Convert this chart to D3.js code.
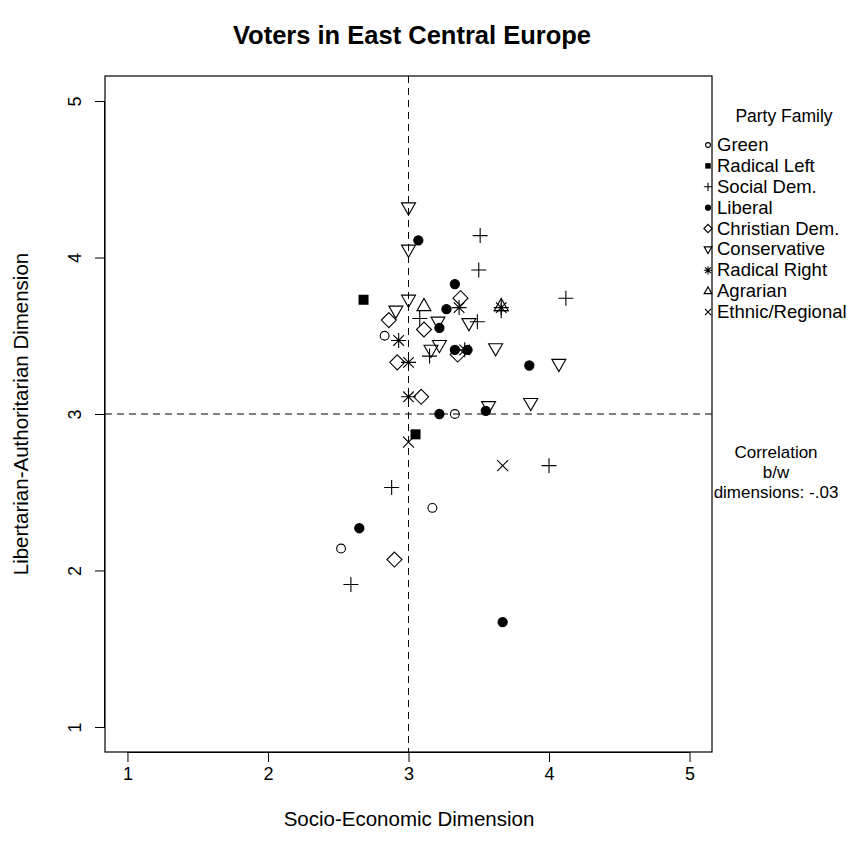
<!DOCTYPE html>
<html><head><meta charset="utf-8">
<script src="https://cdn.jsdelivr.net/npm/d3@7"></script>
<style>body{margin:0;background:#fff}text{font-family:"Liberation Sans",Arial,sans-serif;fill:#000}</style>
</head><body>
<svg id="c" width="858" height="858"></svg>
<script>
// ---- data ----
const families = ["Green","Radical Left","Social Dem.","Liberal","Christian Dem.","Conservative","Radical Right","Agrarian","Ethnic/Regional"];
const pointFamily = [
  "Green","Green","Green","Green",
  "Radical Left","Radical Left",
  "Social Dem.","Social Dem.","Social Dem.","Social Dem.","Social Dem.","Social Dem.","Social Dem.","Social Dem.","Social Dem.","Social Dem.",
  "Liberal","Liberal","Liberal","Liberal","Liberal","Liberal","Liberal","Liberal","Liberal","Liberal","Liberal",
  "Christian Dem.","Christian Dem.","Christian Dem.","Christian Dem.","Christian Dem.","Christian Dem.","Christian Dem.",
  "Conservative","Conservative","Conservative","Conservative","Conservative","Conservative","Conservative","Conservative","Conservative","Conservative","Conservative","Conservative",
  "Radical Right","Radical Right","Radical Right","Radical Right","Radical Right","Radical Right",
  "Agrarian","Agrarian",
  "Ethnic/Regional","Ethnic/Regional"
];
const pointX = [
  2.83,3.33,3.17,2.52,
  2.68,3.05,
  3.51,3.50,4.12,3.08,3.49,3.15,4.00,2.88,2.59,3.66,
  3.07,3.33,3.27,3.22,3.33,3.42,3.86,3.55,3.22,2.65,3.67,
  3.37,2.86,3.11,3.35,2.92,3.09,2.90,
  3.00,3.00,3.00,2.91,3.21,3.22,3.16,3.43,3.62,4.07,3.87,3.57,
  3.36,2.93,3.00,3.00,3.40,3.66,
  3.11,3.66,
  3.00,3.67
];
const pointY = [
  3.50,3.00,2.40,2.14,
  3.73,2.87,
  4.14,3.92,3.74,3.61,3.59,3.37,2.67,2.53,1.91,3.66,
  4.11,3.83,3.67,3.55,3.41,3.41,3.31,3.02,3.00,2.27,1.67,
  3.74,3.60,3.54,3.38,3.33,3.11,2.07,
  4.32,4.05,3.73,3.66,3.59,3.44,3.41,3.58,3.42,3.32,3.07,3.05,
  3.68,3.47,3.33,3.11,3.41,3.68,
  3.69,3.69,
  2.82,2.67
];
const xTicks = [1,2,3,4,5];
const yTicks = [1,2,3,4,5];
const refX = [3];
const refY = [3];
const titleText = "Voters in East Central Europe";
const xLabel = "Socio-Economic Dimension";
const yLabel = "Libertarian-Authoritarian Dimension";
const legendTitle = "Party Family";
const noteLines = ["Correlation","b/w","dimensions: -.03"];

// ---- layout ----
const svg = d3.select("#c");
const L = 105, R = 712, T = 76, B = 752;
const x = d3.scaleLinear().domain([0.84,5.16]).range([L,R]);
const y = d3.scaleLinear().domain([0.84,5.16]).range([B,T]);

const shapes = {
  "Green":          {type:"circle", fill:false, r:4.4},
  "Radical Left":   {type:"path", fill:true,  d:"M-5,-5H5V5H-5Z"},
  "Social Dem.":    {type:"path", fill:false, d:"M-7.5,0H7.5M0,-7.5V7.5"},
  "Liberal":        {type:"circle", fill:true, r:4.6},
  "Christian Dem.": {type:"path", fill:false, d:"M0,-7.5L7.5,0L0,7.5L-7.5,0Z"},
  "Conservative":   {type:"path", fill:false, d:"M-7,-4.6H7L0,7.6Z"},
  "Radical Right":  {type:"path", fill:false, d:"M-7.5,0H7.5M0,-7.5V7.5M-5.3,-5.3L5.3,5.3M-5.3,5.3L5.3,-5.3"},
  "Agrarian":       {type:"path", fill:false, d:"M-7,4.6H7L0,-7.6Z"},
  "Ethnic/Regional":{type:"path", fill:false, d:"M-5.5,-5.5L5.5,5.5M-5.5,5.5L5.5,-5.5"}
};
function drawSymbol(g, fam, s){
  const sh = shapes[fam];
  if (sh.type === "circle") {
    g.append("circle").attr("r", sh.r*s)
      .attr("fill", sh.fill ? "#000" : "none").attr("stroke","#000").attr("stroke-width",1.1);
  } else {
    g.append("path").attr("d", sh.d).attr("transform", s!==1 ? `scale(${s})` : null)
      .attr("fill", sh.fill ? "#000" : "none").attr("stroke", sh.fill ? "none" : "#000")
      .attr("stroke-width", 1.1/s);
  }
}

// title
svg.append("text").attr("x", 412).attr("y", 44).attr("text-anchor","middle")
  .style("font-size","25.5px").style("font-weight","bold").text(titleText);

// reference dashed lines
const plot = svg.append("g");
plot.selectAll(".vx").data(refX).join("line")
  .attr("x1", d=>x(d)).attr("x2", d=>x(d)).attr("y1", T).attr("y2", B)
  .attr("stroke","#000").attr("stroke-dasharray","7,5");
plot.selectAll(".hy").data(refY).join("line")
  .attr("x1", L).attr("x2", R).attr("y1", d=>y(d)).attr("y2", d=>y(d))
  .attr("stroke","#000").attr("stroke-dasharray","7,5");

// points
const pts = pointX.map((v,i)=>({x:v, y:pointY[i], f:pointFamily[i]}));
pts.forEach(p=>{
  const g = plot.append("g").attr("transform", `translate(${x(p.x)},${y(p.y)})`);
  drawSymbol(g, p.f, 1);
});

// box
svg.append("rect").attr("x", L).attr("y", T).attr("width", R-L).attr("height", B-T)
  .attr("fill","none").attr("stroke","#000").attr("stroke-width",1.2);

// axes
const xAxis = svg.append("g").attr("transform", `translate(0,${B})`)
  .call(d3.axisBottom(x).tickValues(xTicks).tickSize(10).tickPadding(5).tickFormat(d3.format("d")));
xAxis.select(".domain").attr("d", `M${x(1)},0.5H${x(5)}`);
xAxis.selectAll("text").style("font-size","18px").style("font-family","Liberation Sans, Arial, sans-serif");

const yAxis = svg.append("g").attr("transform", `translate(${L},0)`)
  .call(d3.axisLeft(y).tickValues(yTicks).tickSize(10).tickFormat(d3.format("d")));
yAxis.select(".domain").attr("d", `M-0.5,${y(1)}V${y(5)}`);
yAxis.selectAll("text").style("font-size","18px").style("font-family","Liberation Sans, Arial, sans-serif")
  .attr("x", null).attr("dy", null).attr("text-anchor","middle")
  .attr("transform", "translate(-24,0) rotate(-90)");

// axis titles
svg.append("text").attr("x", 409).attr("y", 826).attr("text-anchor","middle")
  .style("font-size","20.5px").text(xLabel);
svg.append("text").attr("transform","translate(28,414) rotate(-90)").attr("text-anchor","middle")
  .style("font-size","20.5px").text(yLabel);

// legend
const lg = svg.append("g");
lg.append("text").attr("x", 784).attr("y", 122).attr("text-anchor","middle")
  .style("font-size","17.5px").text(legendTitle);
const ly = d3.scalePoint().domain(families).range([145, 312]);
families.forEach(f=>{
  const g = lg.append("g").attr("transform", `translate(708,${ly(f)})`);
  drawSymbol(g, f, 0.55);
  lg.append("text").attr("x", 717).attr("y", ly(f)+6).style("font-size","18.5px").text(f);
});

// correlation note
noteLines.forEach((t,i)=>{
  svg.append("text").attr("x", 776).attr("y", 458 + i*20).attr("text-anchor","middle")
    .style("font-size","17px").text(t);
});
</script>
</body></html>
